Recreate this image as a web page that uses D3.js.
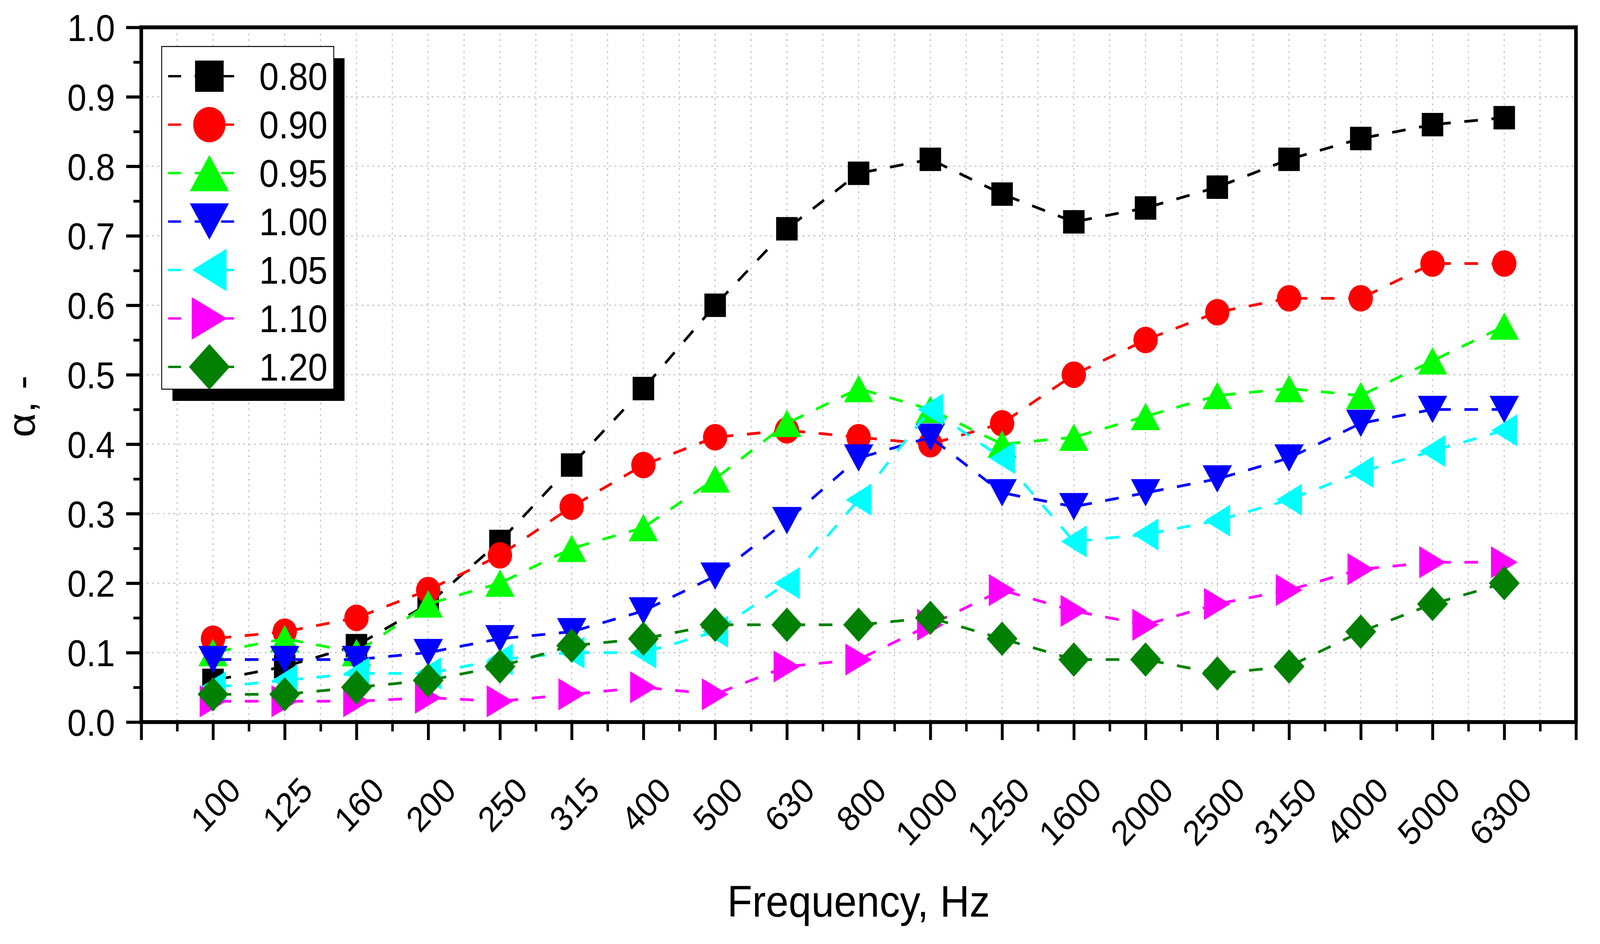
<!DOCTYPE html>
<html>
<head>
<meta charset="utf-8">
<script src="https://cdn.jsdelivr.net/npm/d3@7"></script>
<style>
  html, body { margin: 0; padding: 0; background: #fff; overflow: hidden; }
  svg { display: block; width: 100vw; height: 100vh; font-family: "Liberation Sans", Arial, sans-serif; }
</style>
</head>
<body>
<svg id="chart" viewBox="0 0 4463 2416" preserveAspectRatio="none"></svg>
<script>
// frequencies on the x axis (one per index 1..19)
const freqLabels = ["100", "125", "160", "200", "250", "315", "400", "500", "630", "800",
  "1000", "1250", "1600", "2000", "2500", "3150", "4000", "5000", "6300"];
const seriesNames = ["0.80", "0.90", "0.95", "1.00", "1.05", "1.10", "1.20"];

const s080 = [0.06, 0.08, 0.11, 0.17, 0.26, 0.37, 0.48, 0.60, 0.71, 0.79, 0.81, 0.76, 0.72, 0.74, 0.77, 0.81, 0.84, 0.86, 0.87];
const s090 = [0.12, 0.13, 0.15, 0.19, 0.24, 0.31, 0.37, 0.41, 0.42, 0.41, 0.40, 0.43, 0.50, 0.55, 0.59, 0.61, 0.61, 0.66, 0.66];
const s095 = [0.10, 0.12, 0.10, 0.17, 0.20, 0.25, 0.28, 0.35, 0.43, 0.48, 0.45, 0.40, 0.41, 0.44, 0.47, 0.48, 0.47, 0.52, 0.57];
const s100 = [0.09, 0.09, 0.09, 0.10, 0.12, 0.13, 0.16, 0.21, 0.29, 0.38, 0.41, 0.33, 0.31, 0.33, 0.35, 0.38, 0.43, 0.45, 0.45];
const s105 = [0.05, 0.06, 0.07, 0.07, 0.09, 0.10, 0.10, 0.13, 0.20, 0.32, 0.45, 0.38, 0.26, 0.27, 0.29, 0.32, 0.36, 0.39, 0.42];
const s110 = [0.03, 0.03, 0.03, 0.035, 0.03, 0.04, 0.05, 0.04, 0.08, 0.09, 0.14, 0.19, 0.16, 0.14, 0.17, 0.19, 0.22, 0.23, 0.23];
const s120 = [0.04, 0.04, 0.05, 0.06, 0.08, 0.11, 0.12, 0.14, 0.14, 0.14, 0.15, 0.12, 0.09, 0.09, 0.07, 0.08, 0.13, 0.17, 0.20];

const yTicks = [0.0, 0.1, 0.2, 0.3, 0.4, 0.5, 0.6, 0.7, 0.8, 0.9, 1.0];

const allSeries = [s080, s090, s095, s100, s105, s110, s120];
const colors = ["#000000", "#ff0000", "#00ff00", "#0000ff", "#00ffff", "#ff00ff", "#008000"];
const shapes = ["square", "circle", "up", "down", "left", "right", "diamond"];

// marker path centred on 0,0 ; k scales the size
function markerPath(shape, k) {
  let w, h;
  switch (shape) {
    case "square":
      w = 60 * k / 2;
      return `M${-w},${-w}H${w}V${w}H${-w}Z`;
    case "circle": {
      const r = 34 * k;
      return `M${-r},0A${r},${r} 0 1,0 ${r},0A${r},${r} 0 1,0 ${-r},0Z`;
    }
    case "up":
      w = 41 * k; h = 35 * k;
      return `M0,${-h}L${w},${h}L${-w},${h}Z`;
    case "down":
      w = 41 * k; h = 35 * k;
      return `M0,${h}L${w},${-h}L${-w},${-h}Z`;
    case "left":
      w = 36 * k; h = 41 * k;
      return `M${-w},0L${w},${-h}L${w},${h}Z`;
    case "right":
      w = 37 * k; h = 41 * k;
      return `M${w},0L${-w},${-h}L${-w},${h}Z`;
    case "diamond":
      w = 43 * k; h = 44 * k;
      return `M0,${-h}L${w},0L0,${h}L${-w},0Z`;
  }
}

const svg = d3.select("#chart");
svg.append("rect").attr("width", 4463).attr("height", 2416).attr("fill", "#fff");

const area = { left: 394, right: 4396, top: 70, bottom: 1848 };

const x = d3.scaleLinear().domain([0, 20]).range([area.left, area.right]);
const y = d3.scaleLinear().domain([0, 1]).range([area.bottom, area.top]);

// grid
const grid = svg.append("g").attr("stroke", "#c4c4c4").attr("stroke-width", 3)
  .attr("stroke-dasharray", "5 10");
grid.selectAll(".gx").data(d3.range(0.5, 20, 0.5)).enter().append("line")
  .attr("x1", (d) => x(d)).attr("x2", (d) => x(d))
  .attr("y1", area.top).attr("y2", area.bottom);
grid.selectAll(".gy").data(yTicks.slice(1, -1)).enter().append("line")
  .attr("x1", area.left).attr("x2", area.right)
  .attr("y1", (d) => y(d)).attr("y2", (d) => y(d));

// series: dashed segments (pattern restarts each segment) + markers
allSeries.forEach((vals, si) => {
  const g = svg.append("g");
  const pairs = d3.range(vals.length - 1).map((i) => [i, vals[i], vals[i + 1]]);
  g.selectAll("line").data(pairs).enter().append("line")
    .attr("x1", (d) => x(d[0] + 1)).attr("y1", (d) => y(d[1]))
    .attr("x2", (d) => x(d[0] + 2)).attr("y2", (d) => y(d[2]))
    .attr("stroke", colors[si]).attr("stroke-width", 7)
    .attr("stroke-dasharray", "38 38").attr("stroke-dashoffset", 63);
  g.selectAll("path").data(vals).enter().append("path")
    .attr("d", markerPath(shapes[si], 1))
    .attr("transform", (d, i) => `translate(${x(i + 1)},${y(d)})`)
    .attr("fill", colors[si]);
});

// frame
svg.append("rect")
  .attr("x", area.left).attr("y", area.top)
  .attr("width", area.right - area.left).attr("height", area.bottom - area.top)
  .attr("fill", "none").attr("stroke", "#000").attr("stroke-width", 10);

// bottom axis
const axX = svg.append("g").attr("transform", `translate(0,${area.bottom})`)
  .call(d3.axisBottom(x).tickValues(d3.range(0, 21)).tickSize(46).tickSizeOuter(0)
    .tickFormat((d) => freqLabels[d - 1] || ""));
axX.select(".domain").remove();
axX.selectAll(".tick line").attr("stroke-width", 8);
axX.selectAll("text")
  .attr("x", 0).attr("y", 0).attr("dy", 0)
  .attr("transform", "translate(82,180) rotate(-45)")
  .style("text-anchor", "end").style("font-size", "90px")
  .style("font-family", "Liberation Sans, Arial, sans-serif").attr("fill", "#000");

const axXm = svg.append("g").attr("transform", `translate(0,${area.bottom})`)
  .call(d3.axisBottom(x).tickValues(d3.range(0.5, 20, 1)).tickSize(24).tickFormat(""));
axXm.select(".domain").remove();
axXm.selectAll(".tick line").attr("stroke-width", 7);

// left axis
const axY = svg.append("g").attr("transform", `translate(${area.left},0)`)
  .call(d3.axisLeft(y).tickValues(yTicks).tickSize(42).tickPadding(31)
    .tickFormat(d3.format(".1f")));
axY.select(".domain").remove();
axY.selectAll(".tick line").attr("stroke-width", 8);
axY.selectAll("text").attr("dy", "0.36em")
  .style("font-size", "96px").style("font-family", "Liberation Sans, Arial, sans-serif")
  .attr("fill", "#000");

const axYm = svg.append("g").attr("transform", `translate(${area.left},0)`)
  .call(d3.axisLeft(y).tickValues(d3.range(0.05, 1, 0.1)).tickSize(22).tickFormat(""));
axYm.select(".domain").remove();
axYm.selectAll(".tick line").attr("stroke-width", 7);

// axis titles
svg.append("text").attr("x", (area.left + area.right) / 2).attr("y", 2346)
  .attr("text-anchor", "middle").style("font-size", "114px").text("Frequency, Hz");
svg.append("text").attr("transform", "translate(97,1040) rotate(-90)")
  .attr("text-anchor", "middle").style("font-size", "108px").text("α, -");

// legend
const leg = { x0: 451, y0: 119, x1: 931, y1: 996, row0: 195, step: 124 };
svg.append("rect").attr("x", leg.x0 + 30).attr("y", leg.y0 + 30)
  .attr("width", leg.x1 - leg.x0).attr("height", leg.y1 - leg.y0).attr("fill", "#000");
svg.append("rect").attr("x", leg.x0).attr("y", leg.y0)
  .attr("width", leg.x1 - leg.x0).attr("height", leg.y1 - leg.y0)
  .attr("fill", "#fff").attr("stroke", "#000").attr("stroke-width", 2.5);

seriesNames.forEach((name, si) => {
  const ry = leg.row0 + si * leg.step;
  svg.append("line").attr("x1", 469).attr("x2", 656).attr("y1", ry).attr("y2", ry)
    .attr("stroke", colors[si]).attr("stroke-width", 6).attr("stroke-dasharray", "36 38");
  svg.append("path").attr("d", markerPath(shapes[si], 1.33))
    .attr("transform", `translate(584,${ry})`).attr("fill", colors[si]);
  svg.append("text").attr("x", 723).attr("y", ry).attr("dy", "0.36em")
    .style("font-size", "98px").text(name);
});
</script>
</body>
</html>
